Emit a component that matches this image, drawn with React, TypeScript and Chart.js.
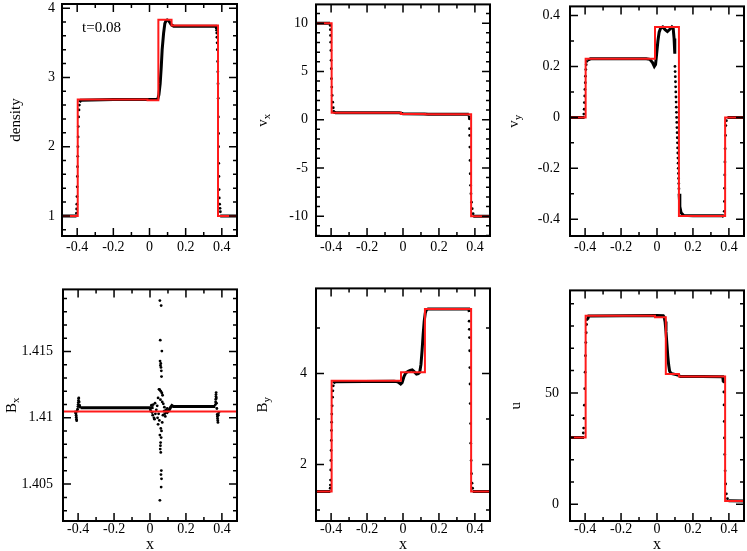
import React, { useEffect, useRef } from "react";
import { Chart, registerables } from "chart.js";
Chart.register(...registerables);

const FONT = "'Liberation Serif', 'Times New Roman', serif";
Chart.defaults.font.family = FONT;
Chart.defaults.font.size = 14;
Chart.defaults.color = "#000";

// ---------- axes ----------
const XMIN = -0.484;
const XMAX = 0.484;
const xTicks = [-0.4, -0.2, 0, 0.2, 0.4];
const rhoTicks = [1, 2, 3, 4];
const vxTicks = [-10, -5, 0, 5, 10];
const vyTicks = [-0.4, -0.2, 0, 0.2, 0.4];
const bxTicks = [1.405, 1.41, 1.415];
const byTicks = [2, 4];
const uTicks = [0, 50];

// ---------- exact solution (wave positions and states) ----------
const waveX = [-0.397, -0.011, 0.049, 0.122, 0.379];
const rhoExact = [1.0, 2.68, 2.671, 3.834, 3.748, 1.0];
const vxExact = [10, 0.72, 0.59, 0.59, 0.57, -10];
const vyExact = [0, 0.23, 0.355, 0.355, -0.387, 0];
const bxExact = [1.41047, 1.41047, 1.41047, 1.41047, 1.41047, 1.41047];
const byExact = [1.41, 3.84, 4.03, 4.03, 5.42, 1.41];
const uExact = [30, 84.6, 84.0, 58.5, 57.3, 1.5];

// ---------- simulation: continuous parts (null = gap) and scattered particles ----------
const rhoLineX = [-0.484, -0.404, -0.395, -0.387, -0.38, -0.2, 0.0, 0.045, 0.052, 0.059, 0.065, 0.07, 0.078, 0.085, 0.092, 0.098, 0.105, 0.111, 0.118, 0.126, 0.134, 0.25, 0.368, 0.371, 0.38, 0.391, 0.484];
const rhoLineY = [1.0, 1.0, null, 2.64, 2.67, 2.68, 2.68, 2.68, 2.75, 2.91, 3.15, 3.4, 3.64, 3.78, 3.82, 3.83, 3.82, 3.8, 3.77, 3.75, 3.74, 3.74, 3.74, 3.7, null, 1.0, 1.0];
const rhoDotX = [-0.404, -0.403, -0.402, -0.401, -0.4, -0.399, -0.398, -0.397, -0.396, -0.395, -0.394, -0.392, -0.39, -0.388, 0.371, 0.372, 0.373, 0.374, 0.375, 0.377, 0.378, 0.379, 0.38, 0.381, 0.382, 0.382, 0.383, 0.384, 0.385, 0.386, 0.388, 0.39, 0.392];
const rhoDotY = [1.04, 1.1, 1.17, 1.28, 1.42, 1.57, 1.71, 1.86, 2.0, 2.14, 2.29, 2.43, 2.53, 2.6, 3.68, 3.64, 3.58, 3.5, 3.4, 3.23, 3.08, 2.91, 2.7, 2.43, 2.19, 2.0, 1.76, 1.57, 1.38, 1.26, 1.17, 1.11, 1.06];

const vxLineX = [-0.484, -0.406, -0.395, -0.386, -0.375, -0.2, -0.02, 0.0, 0.12, 0.14, 0.366, 0.38, 0.391, 0.484];
const vxLineY = [10, 10, null, 0.8, 0.72, 0.72, 0.72, 0.62, 0.59, 0.57, 0.57, null, -10, -10];
const vxDotX = [-0.405, -0.404, -0.403, -0.402, -0.401, -0.4, -0.399, -0.398, -0.396, -0.394, -0.391, -0.388, -0.386, 0.368, 0.369, 0.37, 0.371, 0.372, 0.373, 0.374, 0.376, 0.378, 0.381, 0.385, 0.39];
const vxDotY = [9.77, 9.33, 8.74, 8.04, 7.18, 6.15, 5.28, 4.25, 3.38, 2.52, 1.82, 1.24, 0.86, 0.3, 0.1, -0.93, -1.63, -2.84, -4.22, -5.6, -6.8, -7.67, -8.54, -9.22, -9.74];

const vyLineX = [-0.484, -0.403, -0.395, -0.386, -0.37, -0.06, -0.04, -0.025, -0.015, -0.008, -0.002, 0.005, 0.012, 0.02, 0.032, 0.045, 0.058, 0.07, 0.083, 0.09, 0.095, 0.099, 0.11, 0.123, 0.127, 0.134, 0.147, 0.2, 0.366, 0.372, 0.38, 0.392, 0.484];
const vyLineY = [0, 0, null, 0.225, 0.23, 0.23, 0.228, 0.215, 0.2, 0.208, 0.25, 0.3, 0.335, 0.35, 0.355, 0.345, 0.337, 0.345, 0.355, 0.35, 0.31, 0.25, null, -0.3, -0.35, -0.375, -0.385, -0.386, -0.386, -0.392, null, 0, 0];
const vyDotX = [-0.407, -0.405, -0.404, -0.402, -0.401, -0.399, -0.398, -0.396, -0.394, -0.391,
  0.1, 0.1009, 0.1018, 0.1028, 0.1037, 0.1046, 0.1055, 0.1064, 0.1073, 0.1083, 0.1092, 0.1101, 0.111, 0.1119, 0.1128, 0.1138, 0.1147, 0.1156, 0.1165, 0.1174, 0.1183, 0.1193, 0.1202, 0.1211, 0.122,
  0.374, 0.375, 0.376, 0.377, 0.378, 0.379, 0.381, 0.383, 0.386];
const vyDotY = [0.013, 0.032, 0.058, 0.084, 0.11, 0.136, 0.162, 0.188, 0.207, 0.22,
  0.2, 0.18, 0.16, 0.14, 0.12, 0.1, 0.08, 0.06, 0.04, 0.02, 0.0, -0.02, -0.04, -0.06, -0.08, -0.1, -0.12, -0.14, -0.16, -0.18, -0.2, -0.22, -0.24, -0.26, -0.28,
  -0.369, -0.33, -0.278, -0.226, -0.175, -0.123, -0.071, -0.032, -0.013];

const bxLineX = [-0.386, -0.3, 0.0, 0.02, 0.03, 0.085, 0.095, 0.105, 0.115, 0.122, 0.13, 0.25, 0.364];
const bxLineY = [1.41075, 1.41075, 1.41076, 1.41078, null, 1.41045, 1.4104, 1.41055, 1.4108, 1.41092, 1.41085, 1.41085, 1.41085];
const bxDotX = [-0.415, -0.413, -0.411, -0.41, -0.409, -0.408, -0.405, -0.403, -0.401, -0.4, -0.399, -0.398, -0.397, -0.396, -0.394, -0.392, -0.39,
  0.055, 0.062, 0.057, 0.066, 0.056, 0.06, 0.058, 0.061, 0.063, 0.064, 0.05, 0.054, 0.06, 0.066, 0.07, 0.045, 0.058, 0.068, 0.074, 0.04, 0.08, 0.035, 0.048, 0.072, 0.042, 0.085, 0.052, 0.068, 0.045, 0.06, 0.064, 0.055, 0.062, 0.059, 0.058, 0.057, 0.06, 0.063, 0.061, 0.064, 0.062, 0.055,
  0.002, 0.005, 0.008, 0.012, 0.015, 0.018, 0.022, 0.025, 0.028, 0.03, 0.078, 0.082, 0.088, 0.092, 0.096,
  0.364, 0.365, 0.366, 0.367, 0.367, 0.368, 0.369, 0.37, 0.372, 0.374, 0.375, 0.376, 0.377, 0.378, 0.38, 0.383];
const bxDotY = [1.41045, 1.41035, 1.4102, 1.41005, 1.4099, 1.40978, 1.4105, 1.41065, 1.41085, 1.411, 1.41115, 1.4113, 1.41145, 1.4115, 1.4112, 1.41095, 1.4108,
  1.41884, 1.41846, 1.41585, 1.41503, 1.41428, 1.4141, 1.41395, 1.4138, 1.41354, 1.41311, 1.41215, 1.41212, 1.412, 1.41187, 1.4117, 1.4115, 1.41137, 1.4112, 1.41105, 1.4109, 1.4108, 1.4106, 1.4103, 1.4102, 1.41, 1.4101, 1.4098, 1.40965, 1.40951, 1.4092, 1.40901, 1.4087, 1.40851, 1.40813, 1.4079, 1.40764, 1.40739, 1.40602, 1.40572, 1.4054, 1.40478, 1.40378,
  1.4106, 1.4105, 1.41095, 1.4104, 1.4102, 1.411, 1.41, 1.4099, 1.4111, 1.4103, 1.4105, 1.4103, 1.4106, 1.41045, 1.4107,
  1.411, 1.4112, 1.4114, 1.4116, 1.41175, 1.4119, 1.4115, 1.4111, 1.4107, 1.41025, 1.4101, 1.40995, 1.4098, 1.40965, 1.4102, 1.4104];

const byLineX = [-0.484, -0.404, -0.395, -0.386, -0.38, -0.05, -0.03, -0.02, -0.013, -0.005, 0.005, 0.015, 0.029, 0.04, 0.051, 0.062, 0.075, 0.085, 0.093, 0.1, 0.106, 0.112, 0.118, 0.124, 0.13, 0.14, 0.25, 0.366, 0.369, 0.378, 0.388, 0.484];
const byLineY = [1.41, 1.41, null, 3.78, 3.82, 3.83, 3.82, 3.79, 3.77, 3.8, 3.93, 4.01, 4.05, 4.07, 4.08, 4.04, 3.99, 4.0, 4.03, 4.2, 4.5, 4.85, 5.15, 5.33, 5.4, 5.42, 5.42, 5.42, 5.35, null, 1.41, 1.41];
const byDotX = [-0.405, -0.404, -0.403, -0.402, -0.401, -0.4, -0.399, -0.398, -0.397, -0.396, -0.394, -0.392, -0.39, -0.388,
  0.368, 0.369, 0.37, 0.371, 0.372, 0.373, 0.374, 0.376, 0.377, 0.379, 0.381, 0.384, 0.387];
const byDotY = [1.48, 1.55, 1.66, 1.88, 2.09, 2.31, 2.53, 2.75, 2.93, 3.11, 3.29, 3.48, 3.62, 3.73,
  5.15, 4.97, 4.79, 4.5, 4.13, 3.77, 3.34, 2.9, 2.47, 2.09, 1.8, 1.59, 1.48];

const uLineX = [-0.484, -0.406, -0.395, -0.386, -0.38, 0.0, 0.035, 0.04, 0.045, 0.05, 0.055, 0.06, 0.065, 0.07, 0.078, 0.1, 0.12, 0.13, 0.25, 0.366, 0.369, 0.38, 0.398, 0.484];
const uLineY = [30, 30, null, 83.0, 84.5, 84.7, 84.6, 84.0, 82.0, 77.5, 72.0, 66.5, 62.5, 59.8, 58.7, 58.3, 57.9, 57.4, 57.3, 57.2, 55.0, null, 1.6, 1.5];
const uDotX = [-0.41, -0.408, -0.406, -0.404, -0.402, -0.4, -0.398, -0.396, -0.394, -0.392, -0.389,
  0.371, 0.372, 0.373, 0.374, 0.375, 0.377, 0.379, 0.382, 0.386, 0.392];
const uDotY = [32.0, 34.2, 38.6, 44.5, 51.9, 59.3, 66.7, 72.6, 77.0, 80.7, 82.9,
  54.9, 50.4, 44.6, 37.2, 29.8, 22.4, 15.0, 9.1, 4.7, 2.5];

// ---------- panel layout ----------
const L = 63;
const TOPPAD = 16;
const BOTTOM = 34;

const panels = [
  { title: "density", sub: "", yMin: 0.71, yMax: 4.06, yTicks: rhoTicks, yMinor: 0.2, exact: rhoExact, lx: rhoLineX, ly: rhoLineY, dx: rhoDotX, dy: rhoDotY,
    plot: { left: 62, top: 4, width: 177, height: 232 }, titleOff: 47, yPad: 7, xPad: 3, xTitle: false, note: "t=0.08" },
  { title: "v", sub: "x", yMin: -12.05, yMax: 11.95, yTicks: vxTicks, yMinor: 1, exact: vxExact, lx: vxLineX, ly: vxLineY, dx: vxDotX, dy: vxDotY,
    plot: { left: 316, top: 4, width: 176, height: 232 }, titleOff: 54, yPad: 8, xPad: 3, xTitle: false, note: "" },
  { title: "v", sub: "y", yMin: -0.466, yMax: 0.436, yTicks: vyTicks, yMinor: 0.1, exact: vyExact, lx: vyLineX, ly: vyLineY, dx: vyDotX, dy: vyDotY,
    plot: { left: 570, top: 4, width: 176, height: 232 }, titleOff: 57, yPad: 10, xPad: 3, xTitle: false, note: "" },
  { title: "B", sub: "x", yMin: 1.40222, yMax: 1.41968, yTicks: bxTicks, yMinor: 0.001, exact: bxExact, lx: bxLineX, ly: bxLineY, dx: bxDotX, dy: bxDotY,
    plot: { left: 63, top: 287, width: 176, height: 234 }, titleOff: 52, yPad: 10, xPad: 0, xTitle: true, note: "" },
  { title: "B", sub: "y", yMin: 0.76, yMax: 5.87, yTicks: byTicks, yMinor: 1, exact: byExact, lx: byLineX, ly: byLineY, dx: byDotX, dy: byDotY,
    plot: { left: 316, top: 287, width: 176, height: 234 }, titleOff: 54, yPad: 9, xPad: 0, xTitle: true, note: "" },
  { title: "u", sub: "", yMin: -7.5, yMax: 96, yTicks: uTicks, yMinor: 10, exact: uExact, lx: uLineX, ly: uLineY, dx: uDotX, dy: uDotY,
    plot: { left: 570, top: 287, width: 176, height: 234 }, titleOff: 55, yPad: 11, xPad: 0, xTitle: true, note: "" },
];

const fmt = (v: number) => String(parseFloat(Number(v).toFixed(6)));

function drawTicksAlong(ctx: CanvasRenderingContext2D, scale: any, a: any, horizontal: boolean, majors: number[], step: number) {
  const isMajor = (v: number) => majors.some((m) => Math.abs(m - v) < step * 0.01);
  const kStart = Math.ceil(scale.min / step - 1e-6);
  const kEnd = Math.floor(scale.max / step + 1e-6);
  for (let k = kStart; k <= kEnd; k++) {
    const v = k * step;
    const len = isMajor(v) ? 8 : 4;
    const p = scale.getPixelForValue(v);
    ctx.beginPath();
    if (horizontal) {
      ctx.moveTo(p, a.bottom); ctx.lineTo(p, a.bottom - len);
      ctx.moveTo(p, a.top); ctx.lineTo(p, a.top + len);
    } else {
      ctx.moveTo(a.left, p); ctx.lineTo(a.left + len, p);
      ctx.moveTo(a.right, p); ctx.lineTo(a.right - len, p);
    }
    ctx.stroke();
  }
}

const framePlugin = {
  id: "frame",
  afterDatasetsDraw(chart: any, _args: any, opts: any) {
    const { ctx, chartArea: a, scales } = chart;
    ctx.save();
    ctx.strokeStyle = "#000";
    ctx.lineWidth = 1.5;
    drawTicksAlong(ctx, scales.x, a, true, xTicks, 0.1);
    drawTicksAlong(ctx, scales.y, a, false, opts.yTicks, opts.yMinor);
    ctx.lineWidth = 2;
    ctx.strokeRect(a.left, a.top, a.right - a.left, a.bottom - a.top);

    // y title (rotated, with subscript)
    ctx.save();
    ctx.translate(a.left - opts.titleOff, (a.top + a.bottom) / 2);
    ctx.rotate(-Math.PI / 2);
    ctx.fillStyle = "#000";
    ctx.textBaseline = "alphabetic";
    ctx.textAlign = "left";
    ctx.font = `15px ${FONT}`;
    const w1 = ctx.measureText(opts.title).width;
    ctx.font = `11px ${FONT}`;
    const w2 = opts.sub ? ctx.measureText(opts.sub).width : 0;
    const x0 = -(w1 + w2) / 2;
    ctx.font = `15px ${FONT}`;
    ctx.fillText(opts.title, x0, 5);
    if (opts.sub) {
      ctx.font = `11px ${FONT}`;
      ctx.fillText(opts.sub, x0 + w1, 8);
    }
    ctx.restore();

    ctx.fillStyle = "#000";
    if (opts.xTitle) {
      ctx.font = `16px ${FONT}`;
      ctx.textAlign = "center";
      ctx.textBaseline = "alphabetic";
      ctx.fillText("x", (a.left + a.right) / 2, a.bottom + 28);
    }
    if (opts.note) {
      ctx.font = `15px ${FONT}`;
      ctx.textAlign = "left";
      ctx.textBaseline = "alphabetic";
      ctx.fillText(opts.note, a.left + 20, a.top + 28);
    }
    ctx.restore();
  },
};

function Panel({ p }: { p: any }) {
  const ref = useRef<HTMLCanvasElement>(null);
  const w = L + p.plot.width + 2;
  const h = TOPPAD + p.plot.height + BOTTOM;
  useEffect(() => {
    const exactPts = [{ x: XMIN, y: p.exact[0] }]
      .concat(waveX.map((x: number, i: number) => ({ x, y: p.exact[i + 1] })))
      .concat([{ x: XMAX, y: p.exact[p.exact.length - 1] }]);
    const linePts = p.lx.map((x: number, i: number) => ({ x, y: p.ly[i] }));
    const dotPts = p.dx.map((x: number, i: number) => ({ x, y: p.dy[i] }));
    const tickFont = { family: FONT, size: 14 };
    const chart = new Chart(ref.current as HTMLCanvasElement, {
      type: "scatter",
      data: {
        datasets: [
          { data: exactPts, showLine: true, stepped: true, borderColor: "#ff1a1a", borderWidth: 2, pointRadius: 0, fill: false } as any,
          { data: linePts, showLine: true, borderColor: "#000", borderWidth: 3, pointRadius: 0, spanGaps: false, fill: false } as any,
          { data: dotPts, showLine: false, pointRadius: 1.4, pointBorderWidth: 0, pointBackgroundColor: "#000" } as any,
        ],
      },
      options: {
        responsive: false,
        animation: false,
        events: [],
        layout: { padding: { top: TOPPAD, right: 2, left: 0, bottom: 0 } },
        plugins: {
          legend: { display: false },
          tooltip: { enabled: false },
          frame: { yTicks: p.yTicks, yMinor: p.yMinor, title: p.title, sub: p.sub, titleOff: p.titleOff, xTitle: p.xTitle, note: p.note },
        } as any,
        scales: {
          x: {
            type: "linear",
            min: XMIN,
            max: XMAX,
            grid: { display: false, drawTicks: false },
            border: { display: false },
            afterBuildTicks: (s: any) => { s.ticks = xTicks.map((v) => ({ value: v })); },
            afterFit: (s: any) => { s.height = BOTTOM; },
            ticks: { autoSkip: false, maxRotation: 0, padding: p.xPad, color: "#000", font: tickFont, callback: (v: any) => fmt(v) },
          },
          y: {
            type: "linear",
            min: p.yMin,
            max: p.yMax,
            grid: { display: false, drawTicks: false },
            border: { display: false },
            afterBuildTicks: (s: any) => { s.ticks = p.yTicks.map((v: number) => ({ value: v })); },
            afterFit: (s: any) => { s.width = L; },
            ticks: { autoSkip: false, padding: p.yPad, color: "#000", font: tickFont, callback: (v: any) => fmt(v) },
          },
        },
      } as any,
      plugins: [framePlugin],
    });
    return () => chart.destroy();
  }, []);
  return (
    <canvas
      ref={ref}
      width={w}
      height={h}
      style={{ position: "absolute", left: p.plot.left - L, top: p.plot.top - TOPPAD, width: w, height: h }}
    />
  );
}

export default function App() {
  return (
    <div style={{ position: "absolute", left: 0, top: 0, width: 747, height: 551, overflow: "hidden", background: "#fff" }}>
      {panels.map((p, i) => (
        <Panel key={i} p={p} />
      ))}
    </div>
  );
}
